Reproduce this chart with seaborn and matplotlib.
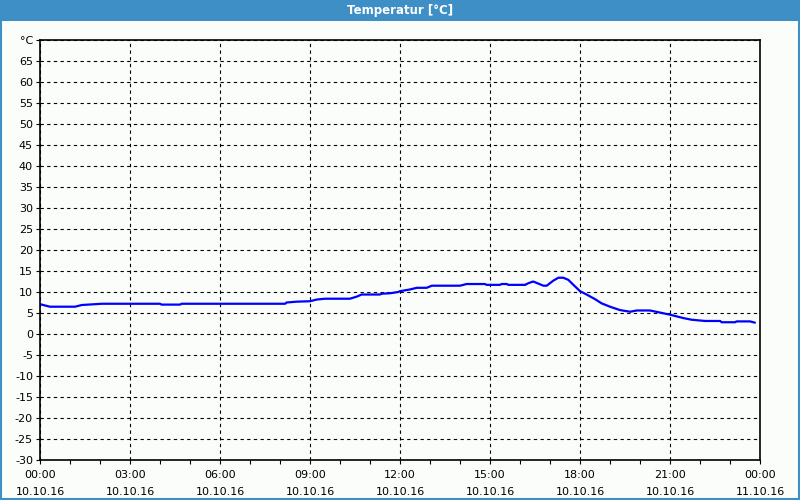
import numpy as np
import pandas as pd
import matplotlib
matplotlib.use("Agg")
from matplotlib import pyplot as plt
from matplotlib.patches import Rectangle
import seaborn as sns

# hours since 10.10.16 00:00 and temperature readings
hours = [0.0, 0.33, 1.17, 1.39, 2.06, 4.0, 4.05, 4.67, 4.72, 8.17, 8.22, 8.56, 9.0,
         9.22, 9.5, 10.33, 10.56, 10.72, 11.33, 11.4, 11.67, 11.94, 12.0, 12.33, 12.56,
         12.89, 13.06, 14.0, 14.22, 14.83, 14.89, 15.33, 15.39, 15.56, 15.61, 16.17,
         16.28, 16.44, 16.61, 16.78, 16.89, 17.11, 17.28, 17.44, 17.61, 17.78, 18.0,
         18.22, 18.5, 18.72, 19.0, 19.33, 19.67, 19.89, 20.33, 20.67, 21.0, 21.44,
         21.72, 22.17, 22.67, 22.72, 23.17, 23.22, 23.67, 23.83]
temps = [7.1, 6.5, 6.5, 6.9, 7.2, 7.2, 7.0, 7.0, 7.2, 7.2, 7.5, 7.7, 7.8,
         8.2, 8.4, 8.4, 8.9, 9.4, 9.4, 9.6, 9.7, 10.0, 10.2, 10.6, 11.0,
         11.0, 11.5, 11.5, 11.9, 11.9, 11.7, 11.7, 11.9, 11.9, 11.7, 11.7,
         12.1, 12.5, 12.0, 11.5, 11.5, 12.7, 13.4, 13.4, 12.9, 11.7, 10.2,
         9.4, 8.3, 7.3, 6.5, 5.7, 5.3, 5.6, 5.6, 5.1, 4.6, 3.8,
         3.4, 3.1, 3.1, 2.8, 2.8, 3.0, 3.0, 2.7]

x_ticks = [0, 3, 6, 9, 12, 15, 18, 21, 24]
x_labels = ["00:00\n10.10.16", "03:00\n10.10.16", "06:00\n10.10.16", "09:00\n10.10.16",
            "12:00\n10.10.16", "15:00\n10.10.16", "18:00\n10.10.16", "21:00\n10.10.16",
            "00:00\n11.10.16"]
y_ticks = list(range(-30, 75, 5))
y_labels = [str(v) for v in y_ticks[:-1]] + ["°C"]

df = pd.DataFrame({"hour": hours, "temp": temps})

sns.set_style("white")
plt.rcParams['font.family'] = ['DejaVu Sans']
plt.rcParams['font.size'] = 8

fig = plt.figure(figsize=(8, 5), dpi=100)
fig.patch.set_facecolor("#fbfdfb")

# title bar and border
fig.patches.append(Rectangle((0, 0.958), 1, 0.042, transform=fig.transFigure,
                             facecolor="#3d8fc6", edgecolor="none", zorder=0))
fig.patches.append(Rectangle((0.001, 0.002), 0.998, 0.996, transform=fig.transFigure,
                             facecolor="none", edgecolor="#3d8fc6", linewidth=1.5, zorder=1))
fig.text(0.5, 0.979, "Temperatur [°C]", color="white", ha="center", va="center",
         fontsize=8.5, fontweight="bold")

ax = fig.add_axes([0.05, 0.08, 0.9, 0.84])
ax.set_facecolor("#fbfdfb")
sns.lineplot(data=df, x="hour", y="temp", ax=ax, color="#0000ff", linewidth=1.6)

ax.set_xlim(0, 24)
ax.set_ylim(-30, 70)
ax.set_xticks(x_ticks)
ax.set_xticklabels(x_labels, linespacing=1.9)
ax.set_xticks(range(0, 25), minor=True)
ax.set_yticks(y_ticks)
ax.set_yticklabels(y_labels)
ax.set_xlabel("")
ax.set_ylabel("")

ax.grid(True, which="major", color="black", linestyle=(0, (3, 3)), linewidth=0.8)
for s in ax.spines.values():
    s.set_color("black")
    s.set_linewidth(1.2)
ax.tick_params(axis="x", which="both", direction="out", length=3, width=0.8,
               color="black", bottom=True, pad=4)
ax.tick_params(axis="y", which="major", direction="out", length=3, width=0.8,
               color="black", left=True, pad=2)
ax.tick_params(axis="both", labelsize=8, labelcolor="black")

fig.savefig("out.png", dpi=100, facecolor=fig.get_facecolor())
